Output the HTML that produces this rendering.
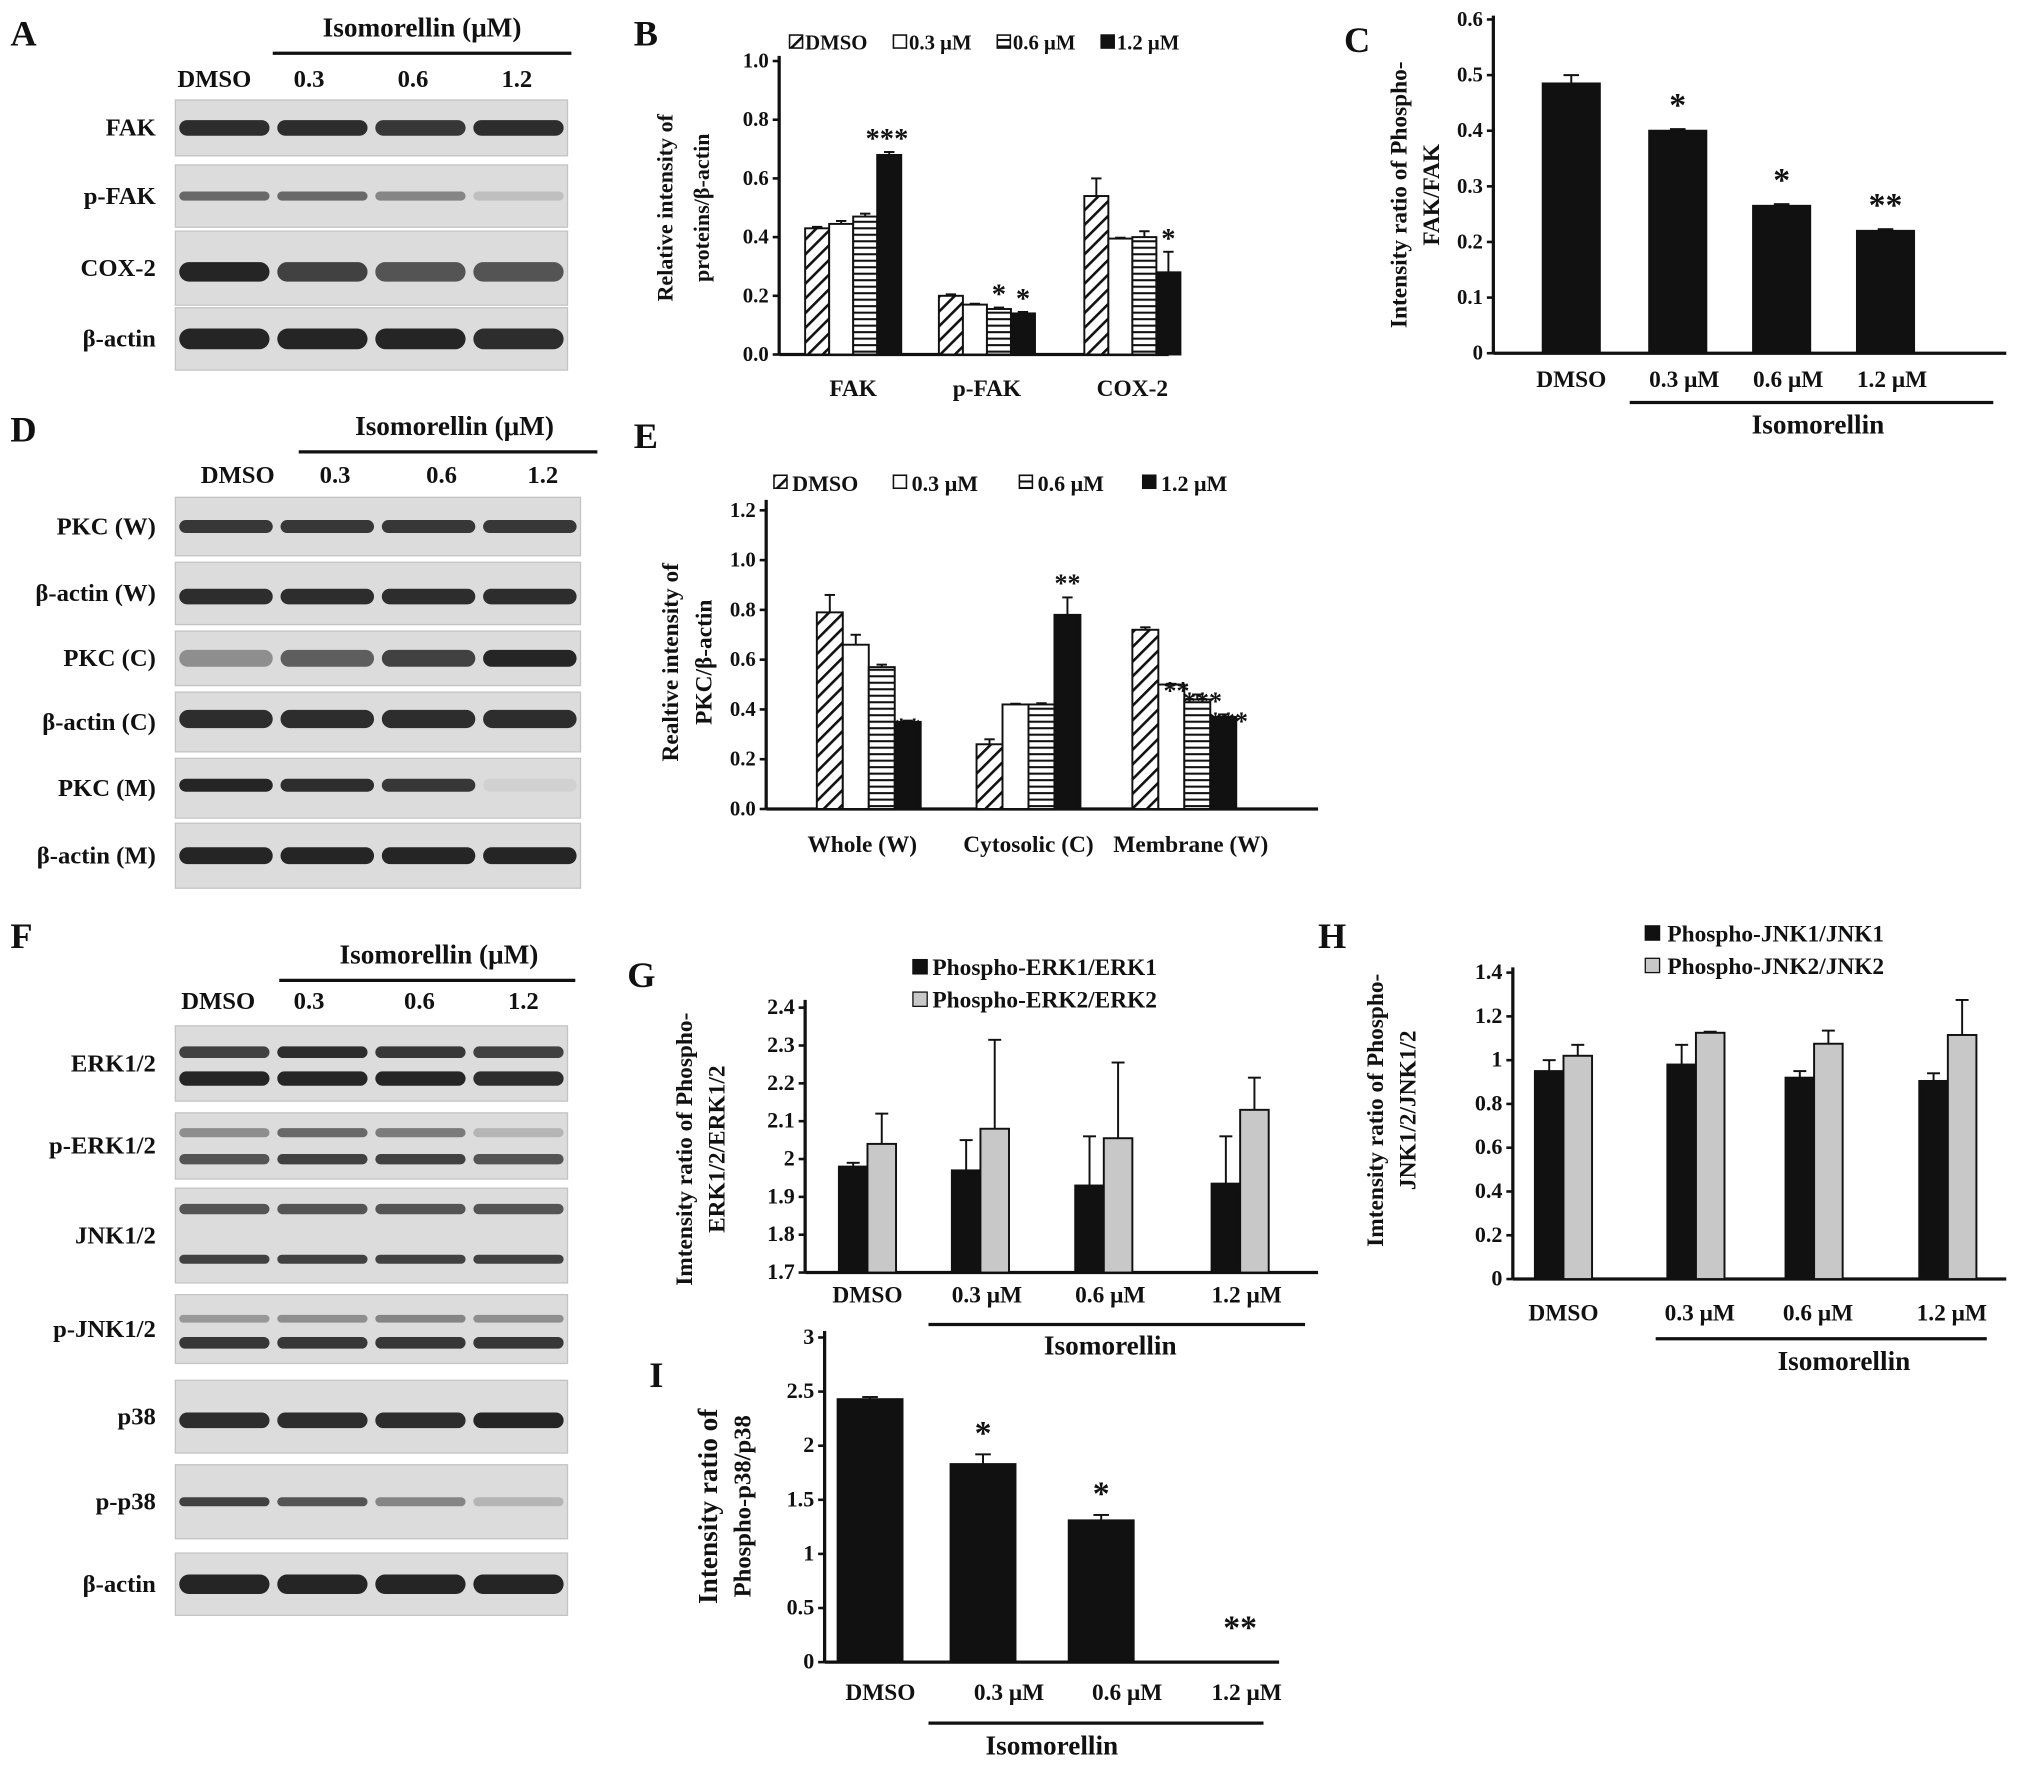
<!DOCTYPE html>
<html><head><meta charset="utf-8"><style>
html,body{margin:0;padding:0;background:#fff;}
svg{display:block;}
text{font-family:"Liberation Serif",serif;font-weight:bold;fill:#111;}
</style></head><body>
<svg id="fig" width="2031" height="1766" viewBox="0 0 1564 1360" xmlns="http://www.w3.org/2000/svg">
<defs>
<pattern id="hatch" patternUnits="userSpaceOnUse" width="8" height="8" patternTransform="rotate(45)"><rect width="8" height="8" fill="#fff"/><rect x="0" y="0" width="2" height="8" fill="#111"/></pattern>
<pattern id="hstripe" patternUnits="userSpaceOnUse" width="6" height="5"><rect width="6" height="5" fill="#fff"/><rect y="0" width="6" height="1.6" fill="#111"/></pattern>
</defs>
<g id="root"></g>
</svg>
<script>
// ---- Panel B data ----
const bCategories = ["FAK", "p-FAK", "COX-2"];
const bSeries = ["DMSO", "0.3 μM", "0.6 μM", "1.2 μM"];
const bDMSO = [0.43, 0.20, 0.54];
const b03 = [0.445, 0.17, 0.395];
const b06 = [0.47, 0.155, 0.40];
const b12 = [0.68, 0.14, 0.28];
const bErr = [[0.005,0.005,0.06],[0.01,0.003,0.003],[0.01,0.005,0.02],[0.01,0.005,0.07]];
const bStars = [["","","",""],["","","*","*"],["","","","*"]];
const bTicks = ["0.0","0.2","0.4","0.6","0.8","1.0"];
// ---- Panel C data ----
const cCategories = ["DMSO", "0.3 μM", "0.6 μM", "1.2 μM"];
const cValues = [0.485, 0.40, 0.265, 0.22];
const cErr = [0.015, 0.003, 0.003, 0.003];
const cStars = ["", "*", "*", "**"];
const cTicks = ["0","0.1","0.2","0.3","0.4","0.5","0.6"];
// ---- Panel E data ----
const eCategories = ["Whole (W)", "Cytosolic (C)", "Membrane (W)"];
const eDMSO = [0.79, 0.26, 0.72];
const e03 = [0.66, 0.42, 0.50];
const e06 = [0.57, 0.42, 0.44];
const e12 = [0.35, 0.78, 0.37];
const eErr = [[0.07,0.02,0.01],[0.04,0.003,0.003],[0.01,0.005,0.02],[0.005,0.07,0.01]];
const eStars = [["","","","**"],["","","","**"],["","**","***","***"]];
const eTicks = ["0.0","0.2","0.4","0.6","0.8","1.0","1.2"];
// ---- Panel G data ----
const gCategories = ["DMSO", "0.3 μM", "0.6 μM", "1.2 μM"];
const gERK1 = [1.98, 1.97, 1.93, 1.935];
const gERK2 = [2.04, 2.08, 2.055, 2.13];
const gErr1 = [0.01, 0.08, 0.13, 0.125];
const gErr2 = [0.08, 0.235, 0.2, 0.085];
const gTicks = ["1.7","1.8","1.9","2","2.1","2.2","2.3","2.4"];
// ---- Panel H data ----
const hCategories = ["DMSO", "0.3 μM", "0.6 μM", "1.2 μM"];
const hJNK1 = [0.95, 0.98, 0.92, 0.905];
const hJNK2 = [1.02, 1.125, 1.075, 1.115];
const hErr1 = [0.05, 0.09, 0.03, 0.035];
const hErr2 = [0.05, 0.005, 0.06, 0.16];
const hTicks = ["0","0.2","0.4","0.6","0.8","1","1.2","1.4"];
// ---- Panel I data ----
const iCategories = ["DMSO", "0.3 μM", "0.6 μM", "1.2 μM"];
const iValues = [2.43, 1.83, 1.31, 0];
const iErr = [0.02, 0.09, 0.05, 0];
const iStars = ["", "*", "*", "**"];
const iTicks = ["0","0.5","1","1.5","2","2.5","3"];

const NS = "http://www.w3.org/2000/svg";
const root = document.getElementById('root');
function mk(tag, attrs, parent){const e=document.createElementNS(NS,tag);for(const k in attrs)e.setAttribute(k,attrs[k]);(parent||root).appendChild(e);return e;}
function txt(x,y,s,size,anchor,parent,rot){const t=mk('text',{x:x,y:y,'font-size':size,'text-anchor':anchor||'middle'},parent);if(rot)t.setAttribute('transform','rotate(-90 '+x+' '+y+')');t.textContent=s;return t;}
function scale(d0,d1,r0,r1){return v=>r0+(v-d0)/(d1-d0)*(r1-r0);}

function axes(g,x0,yTop,yBot,xEnd,ticks,ys,fs){
  const ax=mk('line',{x1:x0,y1:yTop,x2:x0,y2:yBot,stroke:'#111','stroke-width':2.5},g);
  
  
  const bx=mk('line',{x1:x0,y1:yBot,x2:xEnd,y2:yBot,stroke:'#111','stroke-width':2.5},g);
  
  
  ticks.forEach(t=>{const y=ys(parseFloat(t));
    mk('line',{x1:x0-5,y1:y,x2:x0,y2:y,stroke:'#111','stroke-width':2},g);
    const tl=txt(x0-8,y+5,t,fs||17,'end',g);
    
    
  });
}
function bar(g,x,w,y0,y1,fill,name){
  const r=mk('rect',{x:x,y:Math.min(y0,y1),width:w,height:Math.abs(y0-y1),fill:fill,stroke:'#111','stroke-width':1.5},g);
  
  
  return r;
}
function err(g,cx,y,yTop,cap){
  if(Math.abs(y-yTop)<0.5)return;
  mk('line',{x1:cx,y1:y,x2:cx,y2:yTop,stroke:'#111','stroke-width':1.5},g);
  mk('line',{x1:cx-cap,y1:yTop,x2:cx+cap,y2:yTop,stroke:'#111','stroke-width':1.5},g);
}
function blot(x,y,w,h,label,bands,name){
  const g=mk('g',{});
  
  
  mk('rect',{x:x,y:y,width:w,height:h,fill:'#dcdcdc',stroke:'#c4c4c4','stroke-width':1},g);
  const lw=w/4;
  bands.forEach(b=>{
    for(let i=0;i<4;i++){const op=b[1][i]; if(op<=0)continue;
      mk('rect',{x:x+i*lw+3,y:y+h*b[0]-b[2]/2,width:lw-6,height:b[2],rx:b[2]/2,fill:'#1a1a1a','fill-opacity':op},g);}
  });
  const t=txt(x-15,y+h/2+6,label,19,'end');
  
  
}
function header(cx,cy,x1,x2,lanes,lanesY){
  const t=txt(cx,cy,"Isomorellin (μM)",21,'middle');
  
  
  mk('line',{x1:x1,y1:cy+13,x2:x2,y2:cy+13,stroke:'#111','stroke-width':2.5});
  lanes.forEach((l,i)=>{const tl=txt(l[0],lanesY,l[1],19,'middle');
    
    });
}
function panelLetter(x,y,s){const t=txt(x,y,s,28,'start');}

// ===== Panel A =====
panelLetter(8,35,"A");
header(325,28,210,440,[[165,"DMSO"],[238,"0.3"],[318,"0.6"],[398,"1.2"]],67);
blot(135,77,302,43,"FAK",[[0.5,[0.9,0.9,0.85,0.9],12]],'blot-fak');
blot(135,127,302,48,"p-FAK",[[0.5,[0.6,0.6,0.45,0.15],7]],'blot-pfak');
blot(135,178,302,57,"COX-2",[[0.55,[0.95,0.8,0.7,0.7],15]],'blot-cox2');
blot(135,237,302,48,"β-actin",[[0.5,[0.95,0.95,0.95,0.9],16]],'blot-actin-a');

// ===== Panel B =====
(function(){
  const g=mk('g',{});
  panelLetter(488,35,"B");
  const ys=scale(0,1,273,47);
  axes(g,600,43,273,900,bTicks,ys,16);
  const series=[bDMSO,b03,b06,b12];const fills=['url(#hatch)','#fff','url(#hstripe)','#111'];
  const centers=[657,760,872];const bw=18.5;
  bCategories.forEach((c,ci)=>{
    series.forEach((s,si)=>{const x=centers[ci]-2*bw+si*bw;
      bar(g,x,bw,ys(0),ys(s[ci]),fills[si],'bar-'+c.toLowerCase()+'-'+si);
      err(g,x+bw/2,ys(s[ci]),ys(s[ci]+bErr[si][ci]),4);
      const st=bStars[ci][si]; if(st){const t=txt(x+bw/2,ys(s[ci]+bErr[si][ci])-3,st,22,'middle',g);}
    });
    const t=txt(centers[ci],305,c,18,'middle',g);
  });
  const ft=txt(683,ys(0.68+0.01)-3,"***",22,'middle',g);
  const lab=[["DMSO",608],["0.3 μM",688],["0.6 μM",768],["1.2 μM",848]];
  lab.forEach((l,i)=>{const x=l[1];mk('rect',{x:x,y:27,width:10,height:10,fill:fills[i],stroke:'#111','stroke-width':1.2},g);
    const t=txt(x+12,38,l[0],16,'start',g);});
  const y1=txt(518,160,"Relative intensity of",17,'middle',g,true);
  txt(546,160,"proteins/β-actin",17,'middle',g,true);
})();

// ===== Panel C =====
(function(){
  const g=mk('g',{});
  panelLetter(1035,40,"C");
  const ys=scale(0,0.6,272,15);
  axes(g,1150,12,272,1545,cTicks,ys,16);
  const centers=[1210,1292,1372,1452];const bw=44;
  cCategories.forEach((c,i)=>{
    bar(g,centers[i]-bw/2,bw,ys(0),ys(cValues[i]),'#111','bar-c-'+i);
    err(g,centers[i],ys(cValues[i]),ys(cValues[i]+cErr[i]),6);
    if(cStars[i]){const t=txt(centers[i],ys(cValues[i]+cErr[i])-10,cStars[i],26,'middle',g);}
    const t=txt(centers[i]+(i==0?0:5),298,c,18,'middle',g);
  });
  mk('line',{x1:1255,y1:310,x2:1535,y2:310,stroke:'#111','stroke-width':2.5},g);
  const it=txt(1400,334,"Isomorellin",21,'middle',g);
  const y1=txt(1083,150,"Intensity ratio of Phospho-",18,'middle',g,true);
  txt(1108,150,"FAK/FAK",18,'middle',g,true);
})();

// ===== Panel D =====
panelLetter(8,340,"D");
header(350,335,230,460,[[183,"DMSO"],[258,"0.3"],[340,"0.6"],[418,"1.2"]],372);
blot(135,383,312,45,"PKC (W)",[[0.5,[0.85,0.85,0.85,0.85],10]],'blot-pkc-w');
blot(135,433,312,48,"β-actin (W)",[[0.55,[0.9,0.9,0.9,0.9],12]],'blot-actin-w');
blot(135,486,312,42,"PKC (C)",[[0.5,[0.4,0.65,0.8,0.95],13]],'blot-pkc-c');
blot(135,533,312,46,"β-actin (C)",[[0.45,[0.9,0.9,0.9,0.9],14]],'blot-actin-c');
blot(135,584,312,46,"PKC (M)",[[0.45,[0.95,0.9,0.85,0.05],10]],'blot-pkc-m');
blot(135,634,312,50,"β-actin (M)",[[0.5,[0.95,0.95,0.95,0.95],13]],'blot-actin-m');

// ===== Panel E =====
(function(){
  const g=mk('g',{});
  panelLetter(488,345,"E");
  const ys=scale(0,1.2,623,393);
  axes(g,590,385,623,1015,eTicks,ys,16);
  const series=[eDMSO,e03,e06,e12];const fills=['url(#hatch)','#fff','url(#hstripe)','#111'];
  const centers=[669,792,912];const bw=20;
  eCategories.forEach((c,ci)=>{
    series.forEach((s,si)=>{const x=centers[ci]-2*bw+si*bw;
      bar(g,x,bw,ys(0),ys(s[ci]),fills[si],'bar-e-'+ci+'-'+si);
      err(g,x+bw/2,ys(s[ci]),ys(s[ci]+eErr[si][ci]),4);
      const st=eStars[ci][si]; if(st){const yy=ci==1?ys(s[ci]+eErr[si][ci])-4:ys(s[ci]+eErr[si][ci])+12;const t=txt(x+bw/2+(ci==2?4:0),yy,st,20,'middle',g);}
    });
    const t=txt(centers[ci]-5+ci*5,656,c,18,'middle',g);
  });
  const lab=[["DMSO",596],["0.3 μM",688],["0.6 μM",785],["1.2 μM",880]];
  lab.forEach((l,i)=>{const x=l[1];mk('rect',{x:x,y:366,width:10,height:10,fill:fills[i],stroke:'#111','stroke-width':1.2},g);
    const t=txt(x+14,378,l[0],17,'start',g);});
  const y1=txt(522,510,"Realtive intensity of",18,'middle',g,true);
  txt(548,510,"PKC/β-actin",18,'middle',g,true);
})();

// ===== Panel F =====
panelLetter(8,730,"F");
header(338,742,215,443,[[168,"DMSO"],[238,"0.3"],[323,"0.6"],[403,"1.2"]],777);
blot(135,790,302,58,"ERK1/2",[[0.35,[0.8,0.9,0.85,0.8],9],[0.7,[0.95,0.95,0.95,0.9],11]],'blot-erk');
blot(135,857,302,51,"p-ERK1/2",[[0.3,[0.4,0.6,0.5,0.2],7],[0.7,[0.7,0.8,0.8,0.7],8]],'blot-perk');
blot(135,915,302,73,"JNK1/2",[[0.22,[0.7,0.7,0.7,0.7],8],[0.75,[0.8,0.8,0.8,0.8],7]],'blot-jnk');
blot(135,997,302,53,"p-JNK1/2",[[0.35,[0.35,0.4,0.45,0.4],6],[0.7,[0.85,0.85,0.85,0.85],9]],'blot-pjnk');
blot(135,1063,302,56,"p38",[[0.55,[0.9,0.9,0.9,0.95],12]],'blot-p38');
blot(135,1128,302,57,"p-p38",[[0.5,[0.8,0.7,0.45,0.2],7]],'blot-pp38');
blot(135,1196,302,48,"β-actin",[[0.5,[0.95,0.95,0.95,0.95],15]],'blot-actin-f');

// ===== Panel G =====
(function(){
  const g=mk('g',{});
  panelLetter(483,760,"G");
  const ys=scale(1.7,2.4,980,776);
  axes(g,620,770,980,1015,gTicks,ys,17);
  const centers=[668,755,850,955];const bw=22;
  gCategories.forEach((c,i)=>{
    bar(g,centers[i]-bw,bw,ys(1.7),ys(gERK1[i]),'#111','bar-erk1-'+i);
    err(g,centers[i]-bw/2,ys(gERK1[i]),ys(gERK1[i]+gErr1[i]),5);
    bar(g,centers[i],bw,ys(1.7),ys(gERK2[i]),'#c8c8c8','bar-erk2-'+i);
    err(g,centers[i]+bw/2,ys(gERK2[i]),ys(gERK2[i]+gErr2[i]),5);
    const t=txt(centers[i]+(i==0?0:5),1003,c,18,'middle',g);
  });
  mk('line',{x1:715,y1:1020,x2:1005,y2:1020,stroke:'#111','stroke-width':2.5},g);
  const it=txt(855,1043,"Isomorellin",21,'middle',g);
  [["Phospho-ERK1/ERK1",'#111',751],["Phospho-ERK2/ERK2",'#c8c8c8',776]].forEach(l=>{
    mk('rect',{x:703,y:l[2]-12,width:11,height:11,fill:l[1],stroke:'#111','stroke-width':1},g);
    const t=txt(718,l[2],l[0],18,'start',g);});
  const y1=txt(533,885,"Imtensity ratio of Phospho-",18,'middle',g,true);
  txt(558,885,"ERK1/2/ERK1/2",18,'middle',g,true);
})();

// ===== Panel H =====
(function(){
  const g=mk('g',{});
  panelLetter(1015,730,"H");
  const ys=scale(0,1.4,985,749);
  axes(g,1165,745,985,1545,hTicks,ys,17);
  const centers=[1204,1306,1397,1500];const bw=22;
  hCategories.forEach((c,i)=>{
    bar(g,centers[i]-bw,bw,ys(0),ys(hJNK1[i]),'#111','bar-jnk1-'+i);
    err(g,centers[i]-bw/2,ys(hJNK1[i]),ys(hJNK1[i]+hErr1[i]),5);
    bar(g,centers[i],bw,ys(0),ys(hJNK2[i]),'#c8c8c8','bar-jnk2-'+i);
    err(g,centers[i]+bw/2,ys(hJNK2[i]),ys(hJNK2[i]+hErr2[i]),5);
    const t=txt(centers[i]+(i==0?0:3),1017,c,18,'middle',g);
  });
  mk('line',{x1:1275,y1:1031,x2:1530,y2:1031,stroke:'#111','stroke-width':2.5},g);
  const it=txt(1420,1055,"Isomorellin",21,'middle',g);
  [["Phospho-JNK1/JNK1",'#111',725],["Phospho-JNK2/JNK2",'#c8c8c8',750]].forEach(l=>{
    mk('rect',{x:1267,y:l[2]-12,width:11,height:11,fill:l[1],stroke:'#111','stroke-width':1},g);
    const t=txt(1284,l[2],l[0],18,'start',g);});
  const y1=txt(1065,855,"Imtensity ratio of Phospho-",18,'middle',g,true);
  txt(1090,855,"JNK1/2/JNK1/2",18,'middle',g,true);
})();

// ===== Panel I =====
(function(){
  const g=mk('g',{});
  panelLetter(500,1068,"I");
  const ys=scale(0,3,1280,1030);
  axes(g,635,1025,1280,985,iTicks,ys,17);
  const centers=[670,757,848,940];const bw=50;
  iCategories.forEach((c,i)=>{
    if(iValues[i]>0){bar(g,centers[i]-bw/2,bw,ys(0),ys(iValues[i]),'#111','bar-i-'+i);
      err(g,centers[i],ys(iValues[i]),ys(iValues[i]+iErr[i]),6);}
    if(iStars[i]){const yy=iValues[i]>0?ys(iValues[i]+iErr[i])-8:1262;const t=txt(centers[i]+(iValues[i]>0?0:15),yy,iStars[i],26,'middle',g);}
    const t=txt(centers[i]+(i==0?8:20),1309,c,18,'middle',g);
  });
  mk('line',{x1:715,y1:1327,x2:973,y2:1327,stroke:'#111','stroke-width':2.5},g);
  const it=txt(810,1351,"Isomorellin",21,'middle',g);
  const y1=txt(552,1160,"Intensity ratio of",21,'middle',g,true);
  txt(578,1160,"Phospho-p38/p38",19,'middle',g,true);
})();
</script>
</body></html>
